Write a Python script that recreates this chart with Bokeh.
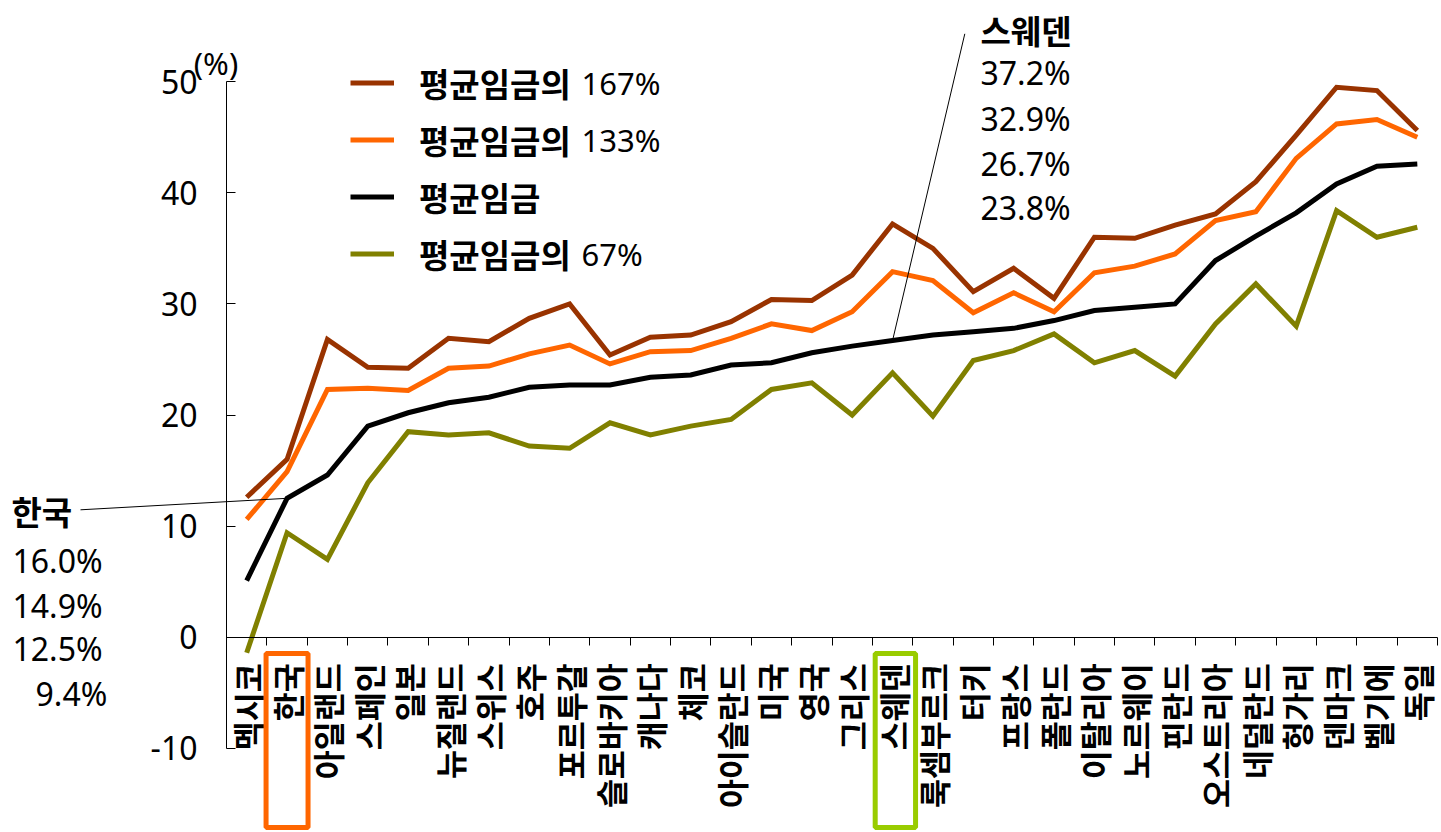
import math
from bokeh.plotting import figure
from bokeh.models import (Range1d, FixedTicker, Legend, LegendItem,
                          Label, Arrow, BoxAnnotation)
from bokeh.embed import file_html
from bokeh.resources import INLINE

# ---------------- data ----------------
countries = ["멕시코", "한국", "아일랜드", "스페인", "일본", "뉴질랜드", "스위스", "호주",
             "포르투갈", "슬로바키아", "캐나다", "체코", "아이슬란드", "미국", "영국", "그리스",
             "스웨덴", "룩셈부르크", "터키", "프랑스", "폴란드", "이탈리아", "노르웨이", "핀란드",
             "오스트리아", "네덜란드", "헝가리", "덴마크", "벨기에", "독일"]

wage167 = [12.6, 16.0, 26.8, 24.3, 24.2, 26.9, 26.6, 28.7, 30.0, 25.4,
           27.0, 27.2, 28.4, 30.4, 30.3, 32.6, 37.2, 35.0, 31.1, 33.2,
           30.5, 36.0, 35.9, 37.1, 38.1, 41.0, 45.2, 49.5, 49.2, 45.6]
wage133 = [10.6, 14.9, 22.3, 22.4, 22.2, 24.2, 24.4, 25.5, 26.3, 24.6,
           25.7, 25.8, 26.9, 28.2, 27.6, 29.3, 32.9, 32.1, 29.2, 31.0,
           29.3, 32.8, 33.4, 34.5, 37.5, 38.3, 43.1, 46.2, 46.6, 45.0]
wage100 = [5.1, 12.5, 14.6, 19.0, 20.2, 21.1, 21.6, 22.5, 22.7, 22.7,
           23.4, 23.6, 24.5, 24.7, 25.6, 26.2, 26.7, 27.2, 27.5, 27.8,
           28.5, 29.4, 29.7, 30.0, 33.9, 36.1, 38.2, 40.8, 42.4, 42.6]
wage67 = [-1.4, 9.4, 7.0, 13.9, 18.5, 18.2, 18.4, 17.2, 17.0, 19.3,
          18.2, 19.0, 19.6, 22.3, 22.9, 20.0, 23.8, 19.9, 24.9, 25.8,
          27.3, 24.7, 25.8, 23.5, 28.2, 31.8, 28.0, 38.4, 36.0, 36.9]

series = [wage167, wage133, wage100, wage67]
series_colors = ["#993300", "#FF6600", "#000000", "#808000"]
legend_names = ["평균임금의", "평균임금의", "평균임금", "평균임금의"]
legend_suffix = ["167%", "133%", "", "67%"]
y_ticks = [-10, 0, 10, 20, 30, 40, 50]
highlight = ["한국", "스웨덴"]

# ---------------- geometry helpers (canvas pixels -> data units) ----------------
W, H = 1440, 831
FRAME_L, FRAME_R = 226, 1437          # where the category band starts / ends
ZERO_Y, PPU = 636.7, 11.11            # pixel row of y=0, pixels per unit
n = len(countries)
cw = (FRAME_R - FRAME_L) / n
xpos = [i + 1 for i in range(n)]      # category centres
x_start = 0.5 - FRAME_L / cw
x_end = 0.5 + (W - FRAME_L) / cw
y_start = (ZERO_Y - H) / PPU
y_end = ZERO_Y / PPU


def sx(px):
    return 0.5 + (px - FRAME_L) / cw


def sy(py):
    return (ZERO_Y - py) / PPU


p = figure(width=W, height=H,
           x_range=Range1d(x_start, x_end), y_range=Range1d(y_start, y_end),
           output_backend="svg", toolbar_location=None,
           min_border_left=0, min_border_right=0, min_border_top=0, min_border_bottom=0)
p.outline_line_color = None
p.grid.visible = False
p.background_fill_color = "white"
p.border_fill_color = "white"

# y axis (crossing at the left edge of the category band)
ya = p.yaxis[0]
ya.fixed_location = 0.5
ya.ticker = FixedTicker(ticks=y_ticks)
ya.bounds = (-10, 50)
ya.major_tick_in = 9
ya.major_tick_out = 0
ya.minor_tick_line_color = None
ya.axis_line_color = "black"
ya.major_tick_line_color = "black"
ya.major_label_standoff = 29
ya.major_label_overrides = {t: str(t) for t in y_ticks}
ya.major_label_text_font = "Noto Sans"
ya.major_label_text_font_size = "32px"
ya.major_label_text_color = "black"

# x axis (crossing at y = 0), labels at category centres, ticks between categories
xa = p.xaxis[0]
xa.fixed_location = 0
xa.ticker = FixedTicker(ticks=xpos, minor_ticks=[x + 0.5 for x in xpos])
xa.bounds = (0.5, n + 0.5)
xa.major_label_overrides = {x: c for x, c in zip(xpos, countries)}
xa.axis_line_color = "black"
xa.major_tick_line_color = None
xa.major_tick_in = 0
xa.major_tick_out = 0
xa.minor_tick_line_color = "black"
xa.minor_tick_in = 0
xa.minor_tick_out = 8
xa.major_label_orientation = math.pi / 2
xa.major_label_standoff = 18
xa.major_label_text_font = "Noto Sans CJK KR"
xa.major_label_text_font_style = "bold"
xa.major_label_text_font_size = "31.5px"
xa.major_label_text_color = "black"

# series lines
renderers = []
for vals, col in zip(series, series_colors):
    r = p.line(xpos, vals, line_color=col, line_width=5, line_join="miter")
    renderers.append(r)

# legend
items = [LegendItem(label=legend_names[i], renderers=[renderers[i]]) for i in range(4)]
item_h = 57
leg_top = 54
legend = Legend(items=items, location=(350, H - (leg_top + 4 * item_h)),
                orientation="vertical", padding=0, spacing=0, margin=0,
                glyph_width=44, glyph_height=item_h, label_height=item_h,
                label_standoff=25,
                label_text_font="Noto Sans CJK KR", label_text_font_style="bold",
                label_text_font_size="33px", label_text_color="black",
                border_line_color=None, background_fill_alpha=0)
p.add_layout(legend)
for i, suf in enumerate(legend_suffix):
    if suf:
        p.add_layout(Label(x=sx(581), y=sy(leg_top + item_h * (i + 0.5)), text=suf,
                           text_align="left", text_baseline="middle",
                           text_font="Noto Sans", text_font_size="31px", text_color="black"))

# (%) unit label
p.add_layout(Label(x=sx(215.5), y=sy(62.5), text="(%)", text_align="center",
                   text_baseline="middle", text_font="Noto Sans", text_font_size="31px",
                   text_color="black"))

# callouts
ki = countries.index(highlight[0])
si = countries.index(highlight[1])

p.add_layout(Label(x=sx(11), y=sy(510), text=highlight[0], text_align="left",
                   text_baseline="middle", text_font="Noto Sans CJK KR",
                   text_font_style="bold", text_font_size="33px", text_color="black"))
k_rows = [560, 605, 648.3, 693.3]
k_left = [12, 12, 12, 35]
for j, vals in enumerate(series):
    p.add_layout(Label(x=sx(k_left[j]), y=sy(k_rows[j]), text=f"{vals[ki]:.1f}%",
                       text_align="left", text_baseline="middle", text_font="Noto Sans",
                       text_font_size="32px", text_color="black"))

p.add_layout(Label(x=sx(980), y=sy(29), text=highlight[1], text_align="left",
                   text_baseline="middle", text_font="Noto Sans CJK KR",
                   text_font_style="bold", text_font_size="33px", text_color="black"))
s_rows = [71.7, 118.3, 163.3, 206.7]
for j, vals in enumerate(series):
    p.add_layout(Label(x=sx(980), y=sy(s_rows[j]), text=f"{vals[si]:.1f}%",
                       text_align="left", text_baseline="middle", text_font="Noto Sans",
                       text_font_size="32px", text_color="black"))

p.add_layout(Arrow(end=None, x_start=sx(80), y_start=sy(509.3),
                   x_end=xpos[ki], y_end=wage100[ki], line_color="black", line_width=1))
p.add_layout(Arrow(end=None, x_start=sx(964.3), y_start=sy(33.3),
                   x_end=xpos[si], y_end=wage100[si], line_color="black", line_width=1))

# highlight boxes around category labels
p.add_layout(BoxAnnotation(left=xpos[ki] - 0.52, right=xpos[ki] + 0.52,
                           top=sy(653), bottom=sy(827), fill_color=None, fill_alpha=0,
                           line_color="#FF6600", line_width=5, line_alpha=1))
p.add_layout(BoxAnnotation(left=xpos[si] - 0.43, right=xpos[si] + 0.57,
                           top=sy(653), bottom=sy(827), fill_color=None, fill_alpha=0,
                           line_color="#99CC00", line_width=5, line_alpha=1))

open("out.html", "w").write(file_html(p, INLINE))
